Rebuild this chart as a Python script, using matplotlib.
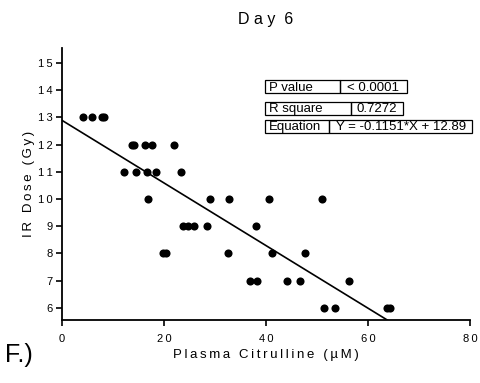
import numpy as np
import matplotlib
matplotlib.use("Agg")
import matplotlib.pyplot as plt
from matplotlib.patches import Rectangle
from matplotlib.ticker import FuncFormatter

plt.rcParams['font.family'] = ['Liberation Sans', 'DejaVu Sans']

# Data: plasma citrulline (uM) vs IR dose (Gy)
citrulline = [4.1, 5.8, 7.9, 8.2,
              13.7, 14.1, 16.3, 17.6, 22.0,
              12.2, 14.5, 16.7, 18.4, 23.3,
              16.9, 29.0, 32.7, 40.5, 51.0,
              23.8, 24.8, 25.9, 28.5, 38.0,
              19.9, 20.4, 32.6, 41.1, 47.6,
              36.9, 38.2, 44.1, 46.7, 56.3,
              51.4, 53.5, 63.7, 64.3]
dose = [13, 13, 13, 13,
        12, 12, 12, 12, 12,
        11, 11, 11, 11, 11,
        10, 10, 10, 10, 10,
        9, 9, 9, 9, 9,
        8, 8, 8, 8, 8,
        7, 7, 7, 7, 7,
        6, 6, 6, 6]

slope = -0.1151
intercept = 12.89
stat_names = ["P value", "R square", "Equation"]
stat_values = ["< 0.0001", "0.7272", "Y = -0.1151*X + 12.89"]


def spaced(s, sep="\u2009"):
    # letter-spaced text like the original export
    return sep.join(s)


W, H = 481, 383
fig = plt.figure(figsize=(W / 100, H / 100), dpi=100)
ax = fig.add_axes([62 / W, 1 - 320 / H, (470 - 62) / W, (320 - 48) / H])

ax.scatter(citrulline, dose, s=34, color="black", zorder=3, linewidths=0)
xf = np.array([0, 65])
ax.plot(xf, slope * xf + intercept, color="black", lw=1.2)

ax.set_xlim(0, 80)
ax.set_ylim(5.55, 15.55)
ax.set_xticks([0, 20, 40, 60, 80])
ax.set_yticks(range(6, 16))
fmt = FuncFormatter(lambda v, p: spaced("%d" % v))
ax.xaxis.set_major_formatter(fmt)
ax.yaxis.set_major_formatter(fmt)
for s in ["top", "right"]:
    ax.spines[s].set_visible(False)
for s in ["left", "bottom"]:
    ax.spines[s].set_linewidth(1.3)
ax.tick_params(direction="out", length=4, width=1.2, labelsize=8, pad=3)
ax.tick_params(axis="x", pad=6)
ax.set_xlabel(spaced("Plasma Citrulline (µM)"), fontsize=9.5, labelpad=4)
ax.set_ylabel(spaced("IR Dose (Gy)"), fontsize=9.5, labelpad=2)
ax.set_title("D a y  6", fontsize=11.5, pad=17)

fig.text(5 / W, 1 - 355 / H, "F.)", fontsize=18, va="center", ha="left")

# stats table boxes, in pixel coords
boxes = [(265, 340, 406.7, 80, 93.3),
         (265, 350.7, 403, 102.3, 114.7),
         (265, 329, 472.5, 119.5, 133)]
for (x0, xd, x1, y0, y1), name, val in zip(boxes, stat_names, stat_values):
    for a, b in [(x0, xd), (xd, x1)]:
        fig.add_artist(Rectangle((a / W, 1 - y1 / H), (b - a) / W, (y1 - y0) / H,
                                 transform=fig.transFigure, fill=False,
                                 lw=0.9, edgecolor="black"))
    yb = 1 - (y1 - 2.6) / H
    fig.text((x0 + 4) / W, yb, name, fontsize=9.5, va="baseline", ha="left")
    fig.text((xd + x1) / 2 / W, yb, val, fontsize=9.5,
             va="baseline", ha="center")

fig.savefig("out.png", dpi=100)
